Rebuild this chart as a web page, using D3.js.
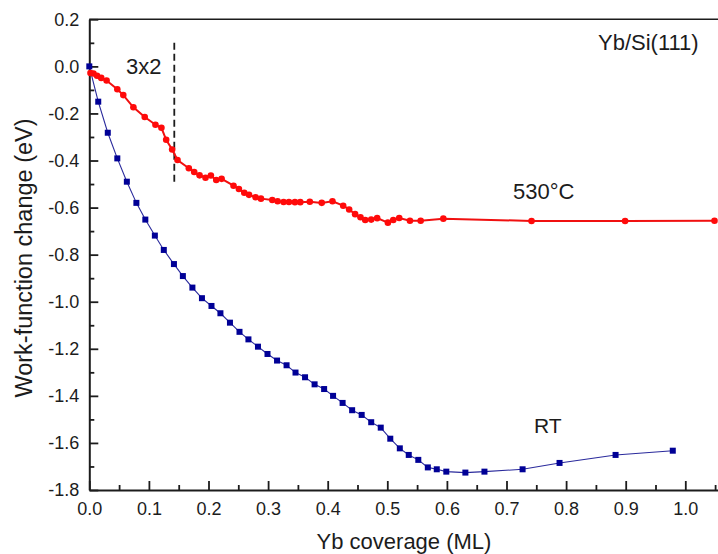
<!DOCTYPE html>
<html>
<head>
<meta charset="utf-8">
<script src="https://cdn.jsdelivr.net/npm/d3@7"></script>
<style>
  html, body { margin: 0; padding: 0; background: #fff; }
  svg { display: block; font-family: "Liberation Sans", Arial, sans-serif; }
</style>
</head>
<body>
<svg id="chart" width="718" height="554"></svg>
<script>
// Work-function change of Yb/Si(111) versus Yb coverage
const rtCoverage = [0, 0.015, 0.031, 0.047, 0.063, 0.079, 0.094, 0.110, 0.125, 0.142, 0.157,
  0.173, 0.189, 0.205, 0.220, 0.236, 0.252, 0.267, 0.283, 0.299, 0.315, 0.331, 0.346, 0.362,
  0.378, 0.394, 0.409, 0.425, 0.441, 0.457, 0.473, 0.489, 0.505, 0.521, 0.536, 0.552, 0.568,
  0.583, 0.599, 0.631, 0.663, 0.727, 0.789, 0.883, 0.979];
const rtChange = [0, -0.150, -0.282, -0.391, -0.490, -0.580, -0.651, -0.719, -0.780, -0.840, -0.891,
  -0.940, -0.985, -1.018, -1.049, -1.089, -1.128, -1.160, -1.191, -1.222, -1.250, -1.270, -1.301, -1.321,
  -1.351, -1.371, -1.400, -1.430, -1.461, -1.481, -1.512, -1.535, -1.582, -1.623, -1.651, -1.672, -1.704,
  -1.712, -1.722, -1.726, -1.722, -1.712, -1.685, -1.651, -1.633];

const hotCoverage = [0.002, 0.007, 0.013, 0.020, 0.029, 0.047, 0.057, 0.074, 0.093, 0.111, 0.121,
  0.129, 0.139, 0.148, 0.167, 0.176, 0.185, 0.195, 0.204, 0.213, 0.222, 0.242, 0.251, 0.260,
  0.268, 0.279, 0.288, 0.307, 0.316, 0.326, 0.335, 0.345, 0.354, 0.370, 0.390, 0.408, 0.426,
  0.436, 0.446, 0.455, 0.463, 0.473, 0.483, 0.501, 0.510, 0.520, 0.538, 0.556, 0.594, 0.742,
  0.899, 1.049];
const hotChange = [-0.028, -0.030, -0.040, -0.049, -0.060, -0.097, -0.122, -0.174, -0.215, -0.248, -0.261,
  -0.312, -0.353, -0.398, -0.433, -0.449, -0.463, -0.473, -0.464, -0.483, -0.478, -0.507, -0.521, -0.537,
  -0.546, -0.556, -0.562, -0.568, -0.573, -0.576, -0.576, -0.577, -0.577, -0.575, -0.580, -0.573, -0.592,
  -0.608, -0.628, -0.641, -0.653, -0.651, -0.645, -0.664, -0.653, -0.644, -0.656, -0.656, -0.647, -0.657,
  -0.657, -0.656];

const xTicks = [0, 0.1, 0.2, 0.3, 0.4, 0.5, 0.6, 0.7, 0.8, 0.9, 1.0];
const xMinorTicks = [0.05, 0.15, 0.25, 0.35, 0.45, 0.55, 0.65, 0.75, 0.85, 0.95, 1.05];
const yTicks = [0.2, 0.0, -0.2, -0.4, -0.6, -0.8, -1.0, -1.2, -1.4, -1.6, -1.8];
const yMinorTicks = [0.1, -0.1, -0.3, -0.5, -0.7, -0.9, -1.1, -1.3, -1.5, -1.7];

// 3x2 phase boundary marker
const boundaryCoverage = [0.1426];
const boundaryRange = [0.10, -0.49];

const svg = d3.select("#chart");
const plotLeft = 89.3, plotTop = 19.3, plotBottom = 490;
const pxPerUnit = 596;
const x = d3.scaleLinear().domain([0, 1.06]).range([plotLeft, plotLeft + pxPerUnit * 1.06]);
const y = d3.scaleLinear().domain([-1.8, 0.2]).range([plotBottom, plotTop]);

const ink = "#1c1c1c";
// one decimal, plain hyphen for negatives
const fmt = d => d3.format(".1f")(d).replace("\u2212", "-");

// frame top line
svg.append("line")
  .attr("x1", plotLeft).attr("x2", x(1.06)).attr("y1", plotTop).attr("y2", plotTop)
  .attr("stroke", ink).attr("stroke-width", 1.6);

// bottom axis, ticks pointing inward
svg.append("g").attr("transform", `translate(0,${plotBottom})`)
  .call(d3.axisBottom(x).tickValues(xTicks).tickFormat(fmt).tickSizeInner(-9).tickSizeOuter(0).tickPadding(12));
svg.append("g").attr("transform", `translate(0,${plotBottom})`)
  .call(d3.axisBottom(x).tickValues(xMinorTicks).tickFormat("").tickSizeInner(-5).tickSizeOuter(0))
  .select(".domain").remove();

// left axis, ticks pointing inward
svg.append("g").attr("transform", `translate(${plotLeft},0)`)
  .call(d3.axisLeft(y).tickValues(yTicks).tickFormat(fmt).tickSizeInner(-9).tickSizeOuter(0).tickPadding(10));
svg.append("g").attr("transform", `translate(${plotLeft},0)`)
  .call(d3.axisLeft(y).tickValues(yMinorTicks).tickFormat("").tickSizeInner(-5).tickSizeOuter(0))
  .select(".domain").remove();

svg.selectAll(".domain").attr("stroke", ink).attr("stroke-width", 2);
svg.selectAll(".tick line").attr("stroke", ink).attr("stroke-width", 1.8);
svg.selectAll(".tick text").attr("fill", ink).attr("font-size", 18)
  .attr("font-family", "'Liberation Sans', Arial, sans-serif");

// axis titles
svg.append("text")
  .attr("x", 404).attr("y", 549)
  .attr("text-anchor", "middle").attr("font-size", 22).attr("fill", ink)
  .text("Yb coverage (ML)");
svg.append("text")
  .attr("transform", "translate(32,258) rotate(-90)")
  .attr("text-anchor", "middle").attr("font-size", 23.5).attr("fill", ink)
  .text("Work-function change (eV)");

// phase boundary
svg.append("line")
  .attr("x1", x(boundaryCoverage[0])).attr("x2", x(boundaryCoverage[0]))
  .attr("y1", y(boundaryRange[0])).attr("y2", y(boundaryRange[1]))
  .attr("stroke", ink).attr("stroke-width", 1.8).attr("stroke-dasharray", "7,4");

// room-temperature series
const rt = rtCoverage.map((c, i) => [c, rtChange[i]]);
svg.append("path").datum(rt)
  .attr("fill", "none").attr("stroke", "#2a2a9c").attr("stroke-width", 1.1)
  .attr("d", d3.line().x(d => x(d[0])).y(d => y(d[1])));
svg.append("g").selectAll("rect").data(rt).join("rect")
  .attr("x", d => x(d[0]) - 3).attr("y", d => y(d[1]) - 3)
  .attr("width", 6).attr("height", 6).attr("fill", "#000096");

// 530 °C series
const hot = hotCoverage.map((c, i) => [c, hotChange[i]]);
svg.append("path").datum(hot)
  .attr("fill", "none").attr("stroke", "#f01010").attr("stroke-width", 2)
  .attr("d", d3.line().x(d => x(d[0])).y(d => y(d[1])));
svg.append("g").selectAll("circle").data(hot).join("circle")
  .attr("cx", d => x(d[0])).attr("cy", d => y(d[1])).attr("r", 3.3)
  .attr("fill", "#ff0a0a");

// annotations
const notes = [
  { t: "3x2", x: 126, y: 74, s: 22 },
  { t: "Yb/Si(111)", x: 598, y: 50, s: 22 },
  { t: "530°C", x: 513, y: 199, s: 22 },
  { t: "RT", x: 534, y: 433, s: 21 }
];
svg.append("g").selectAll("text").data(notes).join("text")
  .attr("x", d => d.x).attr("y", d => d.y)
  .attr("font-size", d => d.s).attr("fill", ink)
  .text(d => d.t);
</script>
</body>
</html>
